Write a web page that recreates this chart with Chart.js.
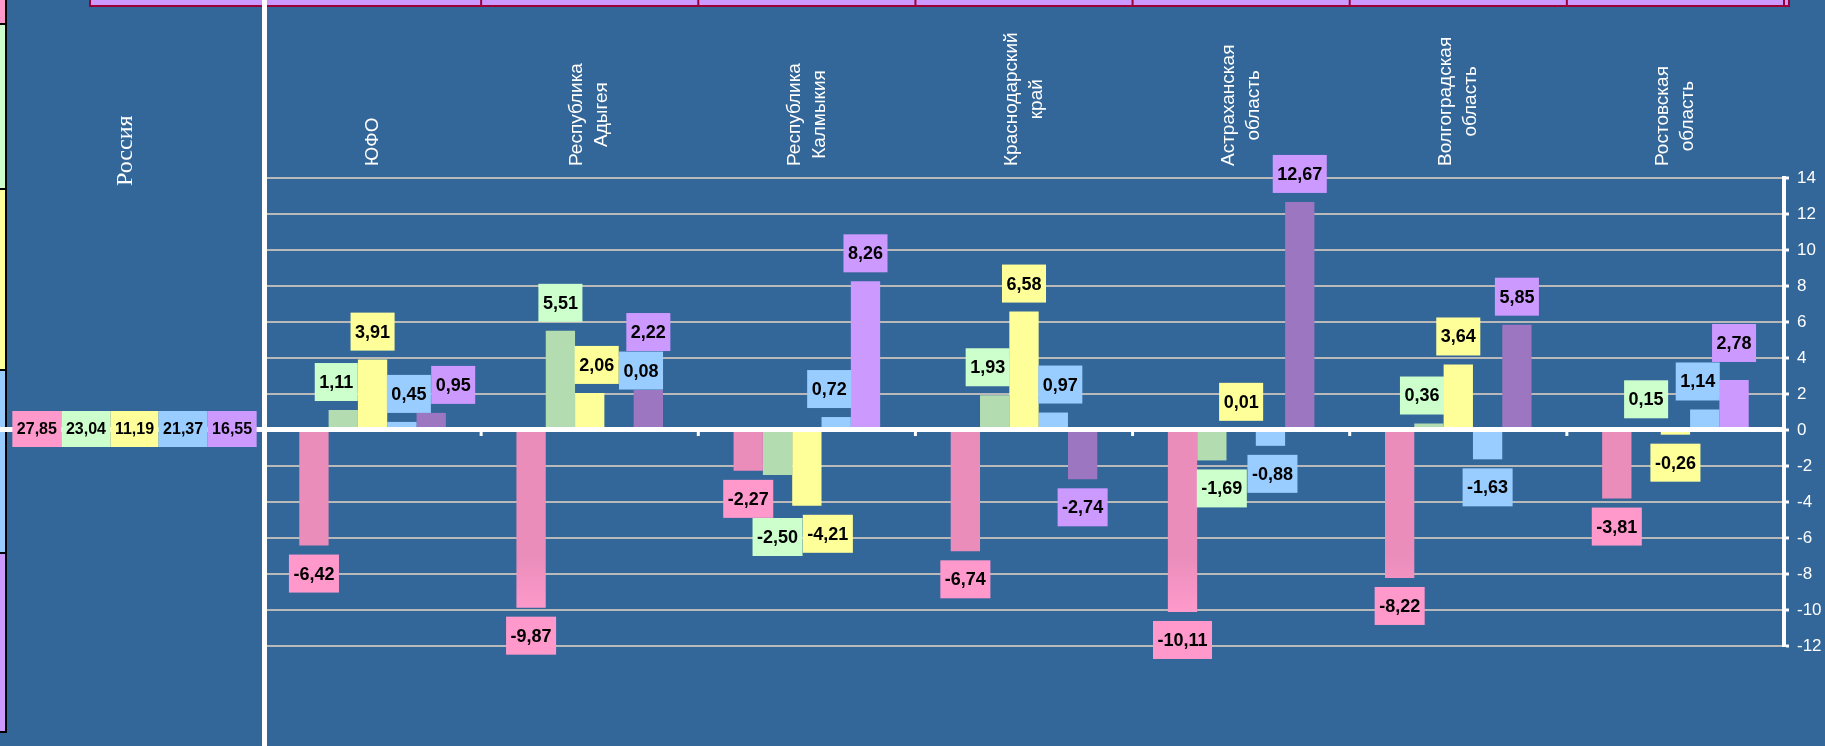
<!DOCTYPE html>
<html>
<head>
<meta charset="utf-8">
<script src="https://cdn.jsdelivr.net/npm/chart.js@4.4.1/dist/chart.umd.min.js"></script>
<style>
  html, body { margin: 0; padding: 0; background: #336699; overflow: hidden; }
</style>
</head>
<body>
<canvas id="chart" width="1825" height="746"></canvas>
<script>
// Data
const regions = [
  ['ЮФО'],
  ['Республика', 'Адыгея'],
  ['Республика', 'Калмыкия'],
  ['Краснодарский', 'край'],
  ['Астраханская', 'область'],
  ['Волгоградская', 'область'],
  ['Ростовская', 'область']
];
const series1 = [-6.42, -9.87, -2.27, -6.74, -10.11, -8.22, -3.81];
const series2 = [1.11, 5.51, -2.50, 1.93, -1.69, 0.36, 0.15];
const series3 = [3.91, 2.06, -4.21, 6.58, 0.01, 3.64, -0.26];
const series4 = [0.45, 0.08, 0.72, 0.97, -0.88, -1.63, 1.14];
const series5 = [0.95, 2.22, 8.26, -2.74, 12.67, 5.85, 2.78];
const russiaLabel = 'Россия';
const russiaValues = [27.85, 23.04, 11.19, 21.37, 16.55];
const yMin = -12, yMax = 14, yStep = 2;

// Styles
const BG = '#336699';
const boxColors = ['#ff99cc', '#ccffcc', '#ffff99', '#99ccff', '#cc99ff'];
const barColors = ['#ea8dbb', '#b3ddb1', '#ffff99', '#99ccff', '#9c76c1'];
const lightPurpleRegions = [2, 6];
const SANS = '"Liberation Sans", Arial, sans-serif';
const SERIF = '"Liberation Serif", "Times New Roman", serif';

const fmt = v => v.toFixed(2).replace('.', ',');

function pinkFill(ctx) {
  const chart = ctx.chart;
  if (!chart.chartArea) return barColors[0];
  const y = chart.scales.y;
  const g = chart.ctx.createLinearGradient(0, y.getPixelForValue(-7), 0, y.getPixelForValue(-10.2));
  g.addColorStop(0, '#ea8dbb');
  g.addColorStop(1, '#ff9bcc');
  return g;
}

function overlapArea(a, b) {
  const w = Math.min(a.x2, b.x2) - Math.max(a.x1, b.x1);
  const h = Math.min(a.y2, b.y2) - Math.max(a.y1, b.y1);
  return (w > 0 && h > 0) ? w * h : 0;
}

// value labels: boxed, placed past the bar end, nudged so they don't collide
function drawLabels(chart) {
  const c = chart.ctx;
  c.font = 'bold 18px ' + SANS;
  const bars = [], items = [];
  chart.data.datasets.forEach((ds, si) => {
    chart.getDatasetMeta(si).data.forEach((el, i) => {
      bars.push({ x1: el.x - el.width / 2, x2: el.x + el.width / 2,
                  y1: Math.min(el.y, el.base), y2: Math.max(el.y, el.base) });
      items.push({ si, i, el, v: ds.data[i] });
    });
  });
  items.sort((a, b) => a.i - b.i || a.si - b.si);

  const placed = [];
  items.forEach(it => {
    const text = fmt(it.v);
    const w = c.measureText(text).width + 9, h = 38, gap = 9;
    let best = null;
    for (let dy = 0; dy <= 120; dy++) {
      for (let dx = -24; dx <= 24; dx++) {
        const cost = dy + 1.2 * Math.abs(dx);
        if (best && cost >= best.cost) continue;
        const x1 = it.el.x - w / 2 + dx;
        const y1 = it.v >= 0 ? it.el.y - gap - h - dy : it.el.y + gap + dy;
        const r = { x1, x2: x1 + w, y1, y2: y1 + h };
        if (placed.some(p => overlapArea(p, r) > 0)) continue;
        let pen = 0;
        bars.forEach(b => { pen += overlapArea(b, r); });
        const total = cost + pen / 12;
        if (!best || total < best.cost) best = { cost: total, r };
      }
    }
    const r = best.r;
    placed.push(r);
    c.fillStyle = boxColors[it.si];
    c.fillRect(r.x1, r.y1, r.x2 - r.x1, r.y2 - r.y1);
    c.fillStyle = '#000';
    c.textAlign = 'center';
    c.textBaseline = 'middle';
    c.fillText(text, (r.x1 + r.x2) / 2, (r.y1 + r.y2) / 2 + 1);
  });
}

const decor = {
  id: 'decor',
  beforeDraw(chart) {
    const c = chart.ctx;
    c.save();
    c.fillStyle = BG;
    c.fillRect(0, 0, chart.width, chart.height);
    // colour strip at the left edge
    const edges = [-10, 24, 189, 370, 553, 732];
    for (let k = 0; k < 5; k++) {
      c.fillStyle = boxColors[k];
      c.fillRect(-2, edges[k], 8, edges[k + 1] - edges[k]);
      c.strokeStyle = '#000';
      c.lineWidth = 2;
      c.strokeRect(-2, edges[k], 8, edges[k + 1] - edges[k]);
    }
    c.restore();
  },
  afterDatasetsDraw(chart) {
    const c = chart.ctx;
    const area = chart.chartArea;
    const x = chart.scales.x, y = chart.scales.y;
    const y0 = y.getPixelForValue(0);
    const catW = (area.right - area.left) / regions.length;
    c.save();

    // top band (cut-off table row)
    c.fillStyle = '#cc99ff';
    c.fillRect(90, -4, area.right + 5 - 90, 10);
    c.strokeStyle = '#99003a';
    c.lineWidth = 2;
    c.strokeRect(90, -4, area.right + 5 - 90, 10);
    for (let k = 0; k <= regions.length; k++) {
      const bx = area.left + k * catW;
      c.beginPath(); c.moveTo(bx, 0); c.lineTo(bx, 6); c.stroke();
    }

    // zero line across the whole width
    c.fillStyle = '#ffffff';
    c.fillRect(0, y0 - 3, area.right, 5);
    // category boundary ticks
    for (let k = 1; k < regions.length; k++) {
      const bx = area.left + k * catW;
      c.fillRect(bx - 1.5, y0 + 1, 3, 5);
    }
    // left white divider
    c.fillRect(area.left - 2, 0, 5, chart.height);

    // Russia boxes on the zero line
    c.font = 'bold 16px ' + SANS;
    const widths = russiaValues.map(v => c.measureText(fmt(v)).width + 9);
    const total = widths.reduce((a, b) => a + b, 0);
    let bx = 134.5 - total / 2;
    russiaValues.forEach((v, k) => {
      c.fillStyle = boxColors[k];
      c.fillRect(bx, y0 - 19, widths[k], 36);
      c.fillStyle = '#000';
      c.textAlign = 'center';
      c.textBaseline = 'middle';
      c.fillText(fmt(v), bx + widths[k] / 2, y0);
      bx += widths[k];
    });

    // Russia title
    c.fillStyle = '#ffffff';
    c.font = '24px ' + SERIF;
    c.save();
    c.translate(126, 186);
    c.rotate(-Math.PI / 2);
    c.textAlign = 'left';
    c.textBaseline = 'middle';
    c.fillText(russiaLabel, 0, 0);
    c.restore();

    // category labels, rotated
    c.font = '19px ' + SANS;
    regions.forEach((lines, i) => {
      const cx = x.getPixelForValue(i);
      const maxW = Math.max(...lines.map(l => c.measureText(l).width));
      c.save();
      c.translate(cx, 166);
      c.rotate(-Math.PI / 2);
      c.textAlign = 'left';
      c.textBaseline = 'middle';
      lines.forEach((l, j) => {
        const w = c.measureText(l).width;
        c.fillText(l, (maxW - w) / 2, (j - (lines.length - 1) / 2) * 25);
      });
      c.restore();
    });

    drawLabels(chart);
    c.restore();
  }
};

new Chart(document.getElementById('chart'), {
  type: 'bar',
  data: {
    labels: regions.map(r => r.join(' ')),
    datasets: [
      { data: series1, backgroundColor: pinkFill },
      { data: series2, backgroundColor: barColors[1] },
      { data: series3, backgroundColor: barColors[2] },
      { data: series4, backgroundColor: barColors[3] },
      { data: series5, backgroundColor: regions.map((_, i) => lightPurpleRegions.includes(i) ? '#cc99ff' : barColors[4]) }
    ]
  },
  options: {
    responsive: false,
    animation: false,
    layout: { padding: { left: 264, top: 178, bottom: 100, right: 0 } },
    plugins: { legend: { display: false }, tooltip: { enabled: false } },
    datasets: { bar: { categoryPercentage: 0.675, barPercentage: 1 } },
    scales: {
      x: { display: false },
      y: {
        position: 'right',
        min: yMin,
        max: yMax,
        ticks: { stepSize: yStep, color: '#ffffff', padding: 8, font: { size: 17, family: SANS } },
        grid: { color: '#b9b9b9', lineWidth: 2, tickColor: '#ffffff', tickLength: 5, tickWidth: 3 },
        border: { color: '#ffffff', width: 4 },
        afterFit(s) { s.width = 41; }
      }
    }
  },
  plugins: [decor]
});
</script>
</body>
</html>
